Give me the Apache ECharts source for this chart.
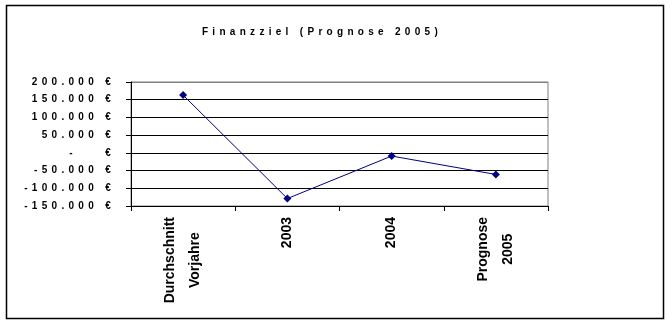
<!DOCTYPE html>
<html>
<head>
<meta charset="utf-8">
<script src="https://cdn.jsdelivr.net/npm/echarts@6/dist/echarts.min.js"></script>
<style>
html,body{margin:0;padding:0;background:#fff;}
#chart{width:672px;height:324px;}
</style>
</head>
<body>
<div id="chart"></div>
<script>
// ---- data ----
const titleText = 'Finanzziel (Prognose 2005)';
const categories = ['Durchschnitt\nVorjahre', '2003', '2004', 'Prognose\n2005'];
const values = [163000, -129000, -9000, -61000];
const yTicks = [-150000, -100000, -50000, 0, 50000, 100000, 150000, 200000];

// letter spacing for the small spaced fonts (Excel-like rendering)
(function () {
  const P = CanvasRenderingContext2D.prototype;
  const setLS = (ctx) => {
    if ('letterSpacing' in ctx) ctx.letterSpacing = /(^|\s)10px/.test(ctx.font) ? '4.3px' : '0px';
  };
  const ft = P.fillText, st = P.strokeText, mt = P.measureText;
  P.fillText = function () { setLS(this); return ft.apply(this, arguments); };
  P.strokeText = function () { setLS(this); return st.apply(this, arguments); };
  P.measureText = function () { setLS(this); return mt.apply(this, arguments); };
})();

function fmtEuro(v) {
  if (v === 0) return '-    €';
  const s = Math.abs(v).toString().replace(/\B(?=(\d{3})+(?!\d))/g, '.');
  return (v < 0 ? '-' : '') + s + ' €';
}

const chart = echarts.init(document.getElementById('chart'), null, { renderer: 'canvas' });
const FONT = '"Liberation Sans", Arial, sans-serif';
chart.setOption({
  animation: false,
  backgroundColor: '#fff',
  title: {
    text: titleText,
    left: 317,
    top: 20,
    textAlign: 'center',
    textStyle: { fontFamily: FONT, fontSize: 10, fontWeight: 'bold', color: '#000' }
  },
  graphic: [{
    type: 'rect',
    shape: { x: 6.5, y: 5.5, width: 657, height: 313 },
    style: { fill: null, stroke: '#000', lineWidth: 1.5 },
    silent: true
  }],
  grid: {
    left: 131, right: 124, top: 82, bottom: 118,
    show: true, borderColor: '#808080', borderWidth: 1, backgroundColor: 'transparent'
  },
  xAxis: {
    type: 'category',
    data: categories,
    boundaryGap: true,
    axisLine: { show: true, onZero: false, lineStyle: { color: '#000', width: 1 } },
    axisTick: { show: true, alignWithLabel: false, length: 5, lineStyle: { color: '#000' } },
    axisLabel: {
      rotate: 90,
      margin: 11,
      interval: 0,
      formatter: (v) => v.split('\n').map(s => '{c|' + s + '}').join('\n'),
      rich: {
        c: { align: 'center', fontFamily: FONT, fontSize: 14, fontWeight: 'bold', color: '#000', lineHeight: 25 }
      }
    },
    splitLine: { show: false }
  },
  yAxis: {
    type: 'value',
    min: yTicks[0],
    max: yTicks[yTicks.length - 1],
    interval: 50000,
    axisLine: { show: true, lineStyle: { color: '#000', width: 1 } },
    axisTick: { show: true, length: 5, lineStyle: { color: '#000' } },
    axisLabel: {
      margin: 16,
      formatter: fmtEuro,
      fontFamily: FONT, fontSize: 10, fontWeight: 'bold', color: '#000'
    },
    splitLine: {
      show: true,
      lineStyle: { color: ['#000', '#000', '#000', '#000', '#000', '#000', '#000', '#808080'], width: 1 }
    }
  },
  series: [{
    type: 'line',
    data: values,
    symbol: 'diamond',
    symbolSize: 8,
    lineStyle: { color: '#000080', width: 1 },
    itemStyle: { color: '#000080' },
    z: 5
  }]
});
</script>
</body>
</html>
